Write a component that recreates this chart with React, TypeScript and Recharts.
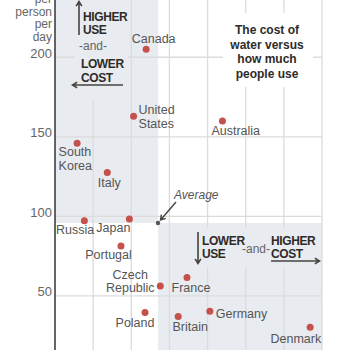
import { ScatterChart, Scatter, XAxis, YAxis, ReferenceArea, ReferenceLine } from "recharts";

// Gallons per person per day against the price of water
const countries = [
  "Canada", "United States", "Australia", "South Korea", "Italy", "Russia", "Japan",
  "Portugal", "Czech Republic", "France", "Poland", "Britain", "Germany", "Denmark",
];
const waterCost = [2.39, 2.06, 4.39, 0.58, 1.37, 0.77, 1.95, 1.73, 2.76, 3.46, 2.36, 3.23, 4.06, 6.69];
const waterUse = [205, 163, 160, 146, 127.5, 97.3, 98.4, 81.4, 56.2, 61.5, 39.5, 37, 40.3, 30.3];
const averageCost = 2.7;
const averageUse = 95.8;

const useTicks = [50, 100, 150, 200];
const costTicks = [1, 2, 3, 4, 5, 6, 7];
const useDomain = [16, 236];
const costDomain = [0, 7];
const axisTitle = ["per", "person", "per", "day"];

const points = countries.map((name, i) => ({ name, cost: waterCost[i], use: waterUse[i] }));
const average = [{ name: "Average", cost: averageCost, use: averageUse }];

const font = "'Liberation Sans', Arial, sans-serif";
const shade = "#e8ebf0";
const grid = "#dcdcdc";
const ink = "#47433f";
const dotColor = "#c4514b";
const labelColor = "#555";

// where each country's name sits next to its dot
const labelPlacement: Record<string, { lines: string[]; dx: number; dy: number; anchor: "start" | "middle" | "end" }> = {
  Canada: { lines: ["Canada"], dx: 7.5, dy: -10.5, anchor: "middle" },
  "United States": { lines: ["United", "States"], dx: 5, dy: -6.5, anchor: "start" },
  Australia: { lines: ["Australia"], dx: -11, dy: 9.5, anchor: "start" },
  "South Korea": { lines: ["South", "Korea"], dx: -18.5, dy: 8.7, anchor: "start" },
  Italy: { lines: ["Italy"], dx: 2, dy: 10, anchor: "middle" },
  Russia: { lines: ["Russia"], dx: -9.3, dy: 9.3, anchor: "middle" },
  Japan: { lines: ["Japan"], dx: 1, dy: 9, anchor: "end" },
  Portugal: { lines: ["Portugal"], dx: -12.5, dy: 9, anchor: "middle" },
  "Czech Republic": { lines: ["Czech", "Republic"], dx: -30, dy: -12, anchor: "middle" },
  France: { lines: ["France"], dx: 4, dy: 10, anchor: "middle" },
  Poland: { lines: ["Poland"], dx: -10, dy: 9.5, anchor: "middle" },
  Britain: { lines: ["Britain"], dx: 12, dy: 10, anchor: "middle" },
  Germany: { lines: ["Germany"], dx: 6, dy: 2, anchor: "start" },
  Denmark: { lines: ["Denmark"], dx: 11, dy: 11, anchor: "end" },
};

const CountryDot = (props: any) => {
  const { cx, cy, payload } = props;
  const place = labelPlacement[payload.name];
  return (
    <g>
      <circle cx={cx} cy={cy} r={3.5} fill={dotColor} />
      {place &&
        place.lines.map((line, i) => (
          <text
            key={line}
            x={cx + place.dx}
            y={cy + place.dy + i * 13.5 + 4.5}
            textAnchor={place.anchor}
            fontSize={12.5}
            fontFamily={font}
            fill={labelColor}
          >
            {line}
          </text>
        ))}
    </g>
  );
};

const AverageDot = (props: any) => <circle cx={props.cx} cy={props.cy} r={2.2} fill="#555" />;

const UseTick = (props: any) => {
  const { x, y, payload } = props;
  return (
    <text x={x - 3} y={y + 0.5} textAnchor="end" fontSize={13} fontFamily={font} fill="#666">
      {payload.value}
    </text>
  );
};

// open arrowhead pointing at (x2, y2)
const arrow = (x1: number, y1: number, x2: number, y2: number) => {
  const a = Math.atan2(y2 - y1, x2 - x1);
  const len = 5.5;
  const spread = 0.55;
  const hx1 = x2 - len * Math.cos(a - spread);
  const hy1 = y2 - len * Math.sin(a - spread);
  const hx2 = x2 - len * Math.cos(a + spread);
  const hy2 = y2 - len * Math.sin(a + spread);
  return `M${x1},${y1} L${x2},${y2} M${hx1},${hy1} L${x2},${y2} L${hx2},${hy2}`;
};

const bold = { fontSize: 12, fontWeight: 700, fontFamily: font, fill: "#2e2b29", letterSpacing: -0.4 };
const plain = { fontSize: 12, fontFamily: font, fill: "#666" };

const Annotations = () => (
  <svg width={350} height={350} style={{ position: "absolute", left: 0, top: 0, pointerEvents: "none" }}>
    {/* top-left note */}
    <rect x={75} y={0} width={53} height={100} fill={shade} />
    <path d={arrow(79, 35, 79, 1.5)} stroke={ink} strokeWidth={1.6} fill="none" />
    <text x={83} y={21} {...bold}>HIGHER</text>
    <text x={83} y={33.5} {...bold}>USE</text>
    <text x={79} y={50} {...plain}>-and-</text>
    <text x={81} y={68} {...bold}>LOWER</text>
    <text x={81} y={81.5} {...bold}>COST</text>
    <path d={arrow(123, 85, 72.5, 85)} stroke={ink} strokeWidth={1.6} fill="none" />

    {/* title */}
    <rect x={223} y={13} width={90} height={74} fill="#fff" />
    {["The cost of", "water versus", "how much", "people use"].map((line, i) => (
      <text key={line} x={267} y={34 + i * 14.7} textAnchor="middle" {...bold} letterSpacing={0}>
        {line}
      </text>
    ))}

    {/* average */}
    <path d={arrow(176, 202, 160.5, 220)} stroke={ink} strokeWidth={1.4} fill="none" />
    <text x={174} y={199} fontSize={12} fontStyle="italic" fontFamily={font} fill="#555">
      Average
    </text>

    {/* bottom-right note */}
    <rect x={195} y={228} width={125} height={39} fill={shade} />
    <path d={arrow(198, 232, 198, 263.5)} stroke={ink} strokeWidth={1.6} fill="none" />
    <text x={202} y={245} {...bold}>LOWER</text>
    <text x={202} y={258} {...bold}>USE</text>
    <text x={242} y={252.5} {...plain}>-and-</text>
    <text x={271} y={245} {...bold}>HIGHER</text>
    <text x={271} y={258} {...bold}>COST</text>
    <path d={arrow(271, 261, 319.5, 261)} stroke={ink} strokeWidth={1.6} fill="none" />

    {/* axis title */}
    {axisTitle.map((line, i) => (
      <text key={i} x={52} y={3 + i * 12.6} textAnchor="end" fontSize={12} fontFamily={font} fill="#666">
        {line}
      </text>
    ))}
  </svg>
);

export default function App() {
  return (
    <div style={{ position: "absolute", left: 0, top: 0, width: 350, height: 350, background: "#fff" }}>
      <ScatterChart width={350} height={350} margin={{ top: 0, right: 28, bottom: 0, left: 0 }}>
        <XAxis type="number" dataKey="cost" domain={costDomain} ticks={costTicks} hide allowDataOverflow />
        <YAxis
          type="number"
          dataKey="use"
          domain={useDomain}
          ticks={useTicks}
          width={55}
          allowDataOverflow
          tickLine={false}
          tickSize={0}
          tickMargin={0}
          axisLine={{ stroke: "#333", strokeWidth: 1.5 }}
          tick={<UseTick />}
        />
        <ReferenceArea x1={costDomain[0]} x2={averageCost} y1={averageUse} y2={useDomain[1]} fill={shade} fillOpacity={1} stroke="none" />
        <ReferenceArea x1={averageCost} x2={costDomain[1]} y1={useDomain[0]} y2={averageUse} fill={shade} fillOpacity={1} stroke="none" />
        {costTicks.map((t) => (
          <ReferenceLine key={`x${t}`} x={t} stroke={grid} strokeWidth={1.3} />
        ))}
        {useTicks.map((t) => (
          <ReferenceLine key={`y${t}`} y={t} stroke={grid} strokeWidth={1.3} />
        ))}
        <Scatter data={average} shape={<AverageDot />} isAnimationActive={false} />
        <Scatter data={points} shape={<CountryDot />} isAnimationActive={false} />
      </ScatterChart>
      <Annotations />
    </div>
  );
}
